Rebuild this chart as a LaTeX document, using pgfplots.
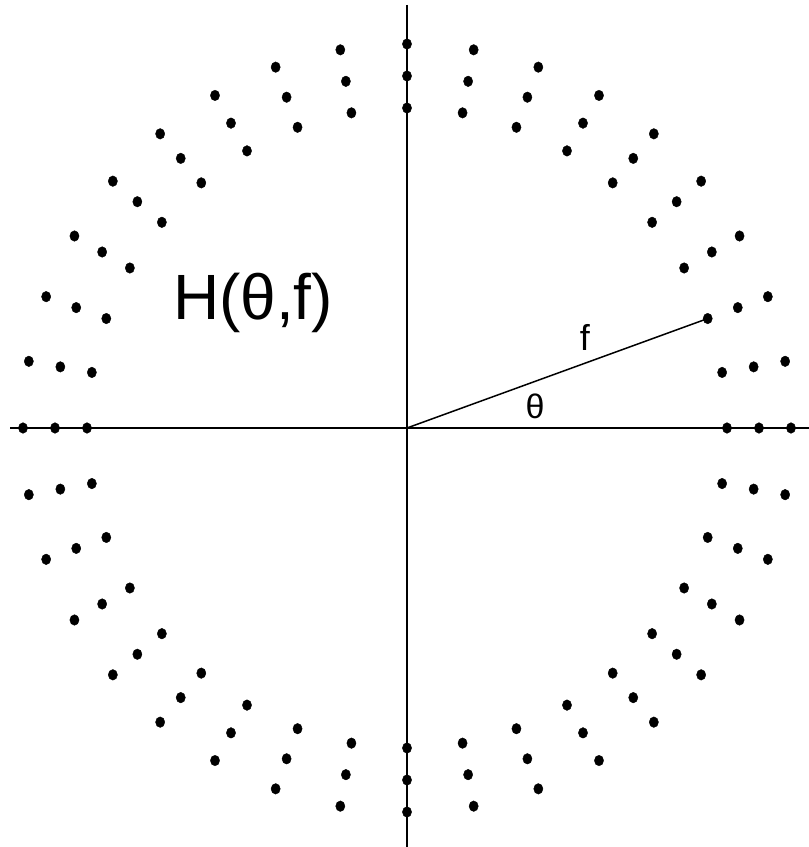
\documentclass[border=0pt]{standalone}
\usepackage{pgfplots}
\pgfplotsset{compat=1.18}
\usepackage{pgfplotstable}
\usepackage{fontspec}
\setmainfont{Liberation Sans}

% sampling grid: direction theta (degrees) and frequency f
\pgfplotstableread{
theta f
0 10
0 11
0 12
10 10
10 11
10 12
20 10
20 11
20 12
30 10
30 11
30 12
40 10
40 11
40 12
50 10
50 11
50 12
60 10
60 11
60 12
70 10
70 11
70 12
80 10
80 11
80 12
90 10
90 11
90 12
100 10
100 11
100 12
110 10
110 11
110 12
120 10
120 11
120 12
130 10
130 11
130 12
140 10
140 11
140 12
150 10
150 11
150 12
160 10
160 11
160 12
170 10
170 11
170 12
180 10
180 11
180 12
190 10
190 11
190 12
200 10
200 11
200 12
210 10
210 11
210 12
220 10
220 11
220 12
230 10
230 11
230 12
240 10
240 11
240 12
250 10
250 11
250 12
260 10
260 11
260 12
270 10
270 11
270 12
280 10
280 11
280 12
290 10
290 11
290 12
300 10
300 11
300 12
310 10
310 11
310 12
320 10
320 11
320 12
330 10
330 11
330 12
340 10
340 11
340 12
350 10
350 11
350 12
}\grid

% the radius drawn from the origin to one sample
\pgfplotstableread{
theta f
20 0
20 10
}\radius

\begin{document}
\begin{tikzpicture}
\begin{axis}[
  width=809pt, height=847pt, scale only axis,
  xmin=-12.71875, xmax=12.5625,
  ymin=-13.09375, ymax=13.375,
  hide axis, clip=false,
]
% coordinate axes
\addplot[black, line width=1.6pt] coordinates {(-12.4,0) (12.56,0)};
\addplot[black, line width=1.6pt] coordinates {(0,13.22) (0,-13.09)};
% radius f at angle theta
\addplot[black, line width=1.5pt]
  table[x expr={\thisrow{f}*cos(\thisrow{theta})},
        y expr={\thisrow{f}*sin(\thisrow{theta})}] {\radius};
% samples of H(theta,f)
\addplot[only marks, mark=*, mark size=4.6pt, black,
         mark options={yscale=1.15}]
  table[x expr={\thisrow{f}*cos(\thisrow{theta})},
        y expr={\thisrow{f}*sin(\thisrow{theta})}] {\grid};
\node[anchor=base, font=\fontsize{64}{70}\selectfont]
  at (axis cs:-4.81,3.40) {H(θ,f)};
\node[font=\fontsize{36}{40}\selectfont] at (axis cs:5.56,2.84) {f};
\node[font=\fontsize{34}{38}\selectfont] at (axis cs:4.0,0.69) {θ};
\end{axis}
% the page spans the whole axis rectangle
\pgfresetboundingbox
\path[use as bounding box] (current axis.south west) rectangle (current axis.north east);
\end{tikzpicture}
\end{document}
